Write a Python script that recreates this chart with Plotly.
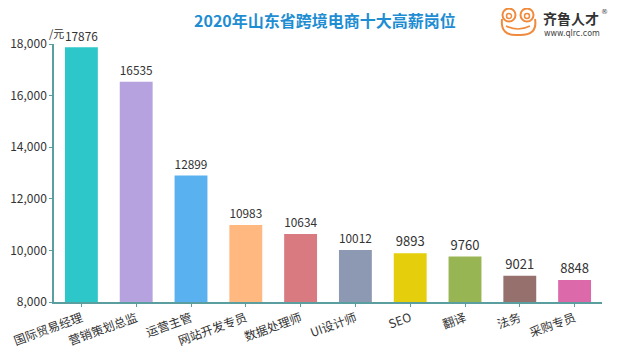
import plotly.graph_objects as go

categories = ["国际贸易经理", "营销策划总监", "运营主管", "网站开发专员", "数据处理师",
              "UI设计师", "SEO", "翻译", "法务", "采购专员"]
salaries = [17876, 16535, 12899, 10983, 10634, 10012, 9893, 9760, 9021, 8848]
bar_colors = ["#2EC7C9", "#B6A2DE", "#5AB1EF", "#FFB980", "#D87A80",
              "#8D98B3", "#E5CF0D", "#97B552", "#95706D", "#DC69AA"]
y_ticks = [8000, 10000, 12000, 14000, 16000, 18000]

# page body has an 8px margin; size the figure so it fills the window exactly
OFF = 8
W, H = 640 - OFF, 360 - OFF
L, R, T, B = 46, 38, 36, 58
pw, ph = W - L - R, H - T - B

def px(x):  # screen pixel -> paper
    return (x - OFF - L) / pw

def py(y):
    return (H - B - (y - OFF)) / ph

FONT = "Noto Sans CJK SC, Microsoft YaHei, sans-serif"
AXIS = "#5a9ea0"

fig = go.Figure()
fig.add_trace(go.Bar(
    x=categories, y=salaries,
    marker=dict(color=bar_colors, line=dict(width=0)),
    width=0.6,
    text=[str(v) for v in salaries], textposition="outside",
    textfont=dict(size=13, color="#333333", family=FONT),
    cliponaxis=False,
))

shapes = []
# logo frog
eye_r = 6.5
for cx in (509, 527):
    shapes.append(dict(type="circle", xref="paper", yref="paper",
                       x0=px(cx - eye_r), x1=px(cx + eye_r), y0=py(15 + eye_r), y1=py(15 - eye_r),
                       line=dict(color="#F08A3C", width=2), fillcolor="white"))
    shapes.append(dict(type="circle", xref="paper", yref="paper",
                       x0=px(cx - 2.5), x1=px(cx + 2.5), y0=py(16 + 2.5), y1=py(16 - 2.5),
                       line=dict(color="#F08A3C", width=1.5), fillcolor="white"))
face = (f"M {px(502)},{py(19)} Q {px(500)},{py(36)} {px(518)},{py(35)} "
        f"Q {px(538)},{py(36)} {px(535)},{py(19)}")
shapes.append(dict(type="path", xref="paper", yref="paper", path=face,
                   line=dict(color="#F08A3C", width=2)))
mouth = f"M {px(506)},{py(26)} Q {px(518)},{py(32)} {px(530)},{py(26)}"
shapes.append(dict(type="path", xref="paper", yref="paper", path=mouth,
                   line=dict(color="#F08A3C", width=1.5)))

annotations = [
    dict(text="<b>2020年山东省跨境电商十大高薪岗位</b>", xref="paper", yref="paper",
         x=px(325), y=py(20), showarrow=False, xanchor="center", yanchor="middle",
         font=dict(size=16, color="#1E8DD2", family=FONT)),
    dict(text="/元", xref="paper", yref="paper", x=px(66), y=py(33), showarrow=False,
         xanchor="right", yanchor="middle", font=dict(size=11, color="#333333", family=FONT)),
    dict(text="<b>齐鲁人才</b>", xref="paper", yref="paper", x=px(541), y=py(18), showarrow=False,
         xanchor="left", yanchor="middle", font=dict(size=14, color="#333333", family=FONT)),
    dict(text="www.qlrc.com", xref="paper", yref="paper", x=px(542), y=py(34), showarrow=False,
         xanchor="left", yanchor="middle", font=dict(size=8, color="#444444", family="DejaVu Sans")),
    dict(text="®", xref="paper", yref="paper", x=px(604), y=py(12), showarrow=False,
         xanchor="center", yanchor="middle", font=dict(size=7, color="#444444", family="DejaVu Sans")),
]

fig.update_layout(
    width=W, height=H,
    margin=dict(l=L, r=R, t=T, b=B, autoexpand=False),
    paper_bgcolor="white", plot_bgcolor="white",
    showlegend=False, bargap=0.4,
    font=dict(family=FONT, color="#333333"),
    shapes=shapes, annotations=annotations,
    xaxis=dict(showline=True, linecolor=AXIS, linewidth=1.5, ticks="outside",
               tickcolor=AXIS, ticklen=3, tickangle=-20, automargin=False,
               tickfont=dict(size=12, color="#333333", family=FONT),
               showgrid=False, fixedrange=True),
    yaxis=dict(range=[8000, 18000], tickvals=y_ticks, tickformat=",",
               showline=True, linecolor=AXIS, linewidth=1.5, ticks="outside",
               tickcolor=AXIS, ticklen=3, showgrid=False, zeroline=False, automargin=False,
               tickfont=dict(size=12, color="#333333", family=FONT)),
)

fig.write_html("out.html")
